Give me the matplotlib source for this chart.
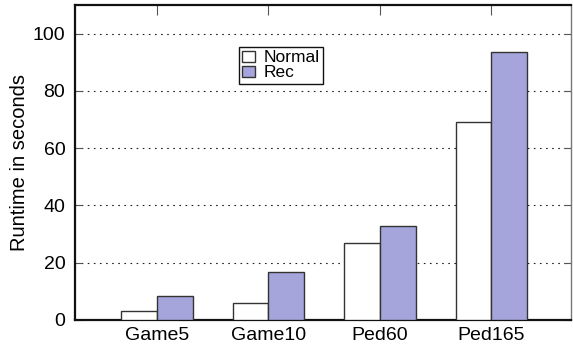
import matplotlib
matplotlib.use("Agg")
import matplotlib.pyplot as plt
import numpy as np

plt.rcParams['font.family'] = ['Liberation Sans', 'DejaVu Sans']

categories = ["Game5", "Game10", "Ped60", "Ped165"]
normal = [3.0, 5.8, 27.0, 69.0]
rec = [8.3, 16.6, 32.8, 93.7]
yticks = [0, 20, 40, 60, 80, 100]

W, H = 573, 349
fig = plt.figure(figsize=(W / 100, H / 100), dpi=100)
ax = fig.add_axes([75 / W, (H - 320) / H, (571 - 75) / W, (320 - 5) / H])

x = np.arange(len(categories))
bw = 0.32
ax.bar(x - bw / 2, normal, bw, color="white", edgecolor="#333333", linewidth=1.0,
       label="Normal", zorder=3)
ax.bar(x + bw / 2, rec, bw, color="#a5a5dc", edgecolor="#333333", linewidth=1.0,
       label="Rec", zorder=3)

ax.set_xlim(-0.735, 3.715)
ax.set_ylim(0, 110)
ax.set_xticks(x)
ax.set_xticklabels(categories, fontsize=14)
ax.set_yticks(yticks)
ax.set_yticklabels([str(v) for v in yticks], fontsize=14)
ax.set_ylabel("Runtime in seconds", fontsize=14.5)
ax.yaxis.set_label_coords(-0.092, 0.5)

ax.yaxis.grid(True, linestyle=(0, (1.5, 4)), color="#222222", linewidth=0.8, zorder=1)
ax.tick_params(axis="x", direction="in", length=7, top=True, bottom=False,
               width=0.8, color="#555555", pad=5)
ax.tick_params(axis="y", direction="in", length=5, left=True, right=True,
               width=0.8, color="#555555", pad=7)
for side in ["top", "bottom", "left"]:
    ax.spines[side].set_linewidth(1.6)
    ax.spines[side].set_color("#111111")
ax.spines["right"].set_linewidth(1.0)
ax.spines["right"].set_color("#777777")

leg = ax.legend(loc="upper left", bbox_to_anchor=((239 - 75) / (571 - 75), (320 - 47) / (320 - 5)),
                fontsize=12.5, frameon=True, fancybox=False, framealpha=1,
                edgecolor="#111111", borderpad=0.2, labelspacing=0.0,
                handlelength=0.7, handleheight=0.6, handletextpad=0.5,
                borderaxespad=0)
leg.get_frame().set_linewidth(1.0)

fig.savefig("out.png", dpi=100)
